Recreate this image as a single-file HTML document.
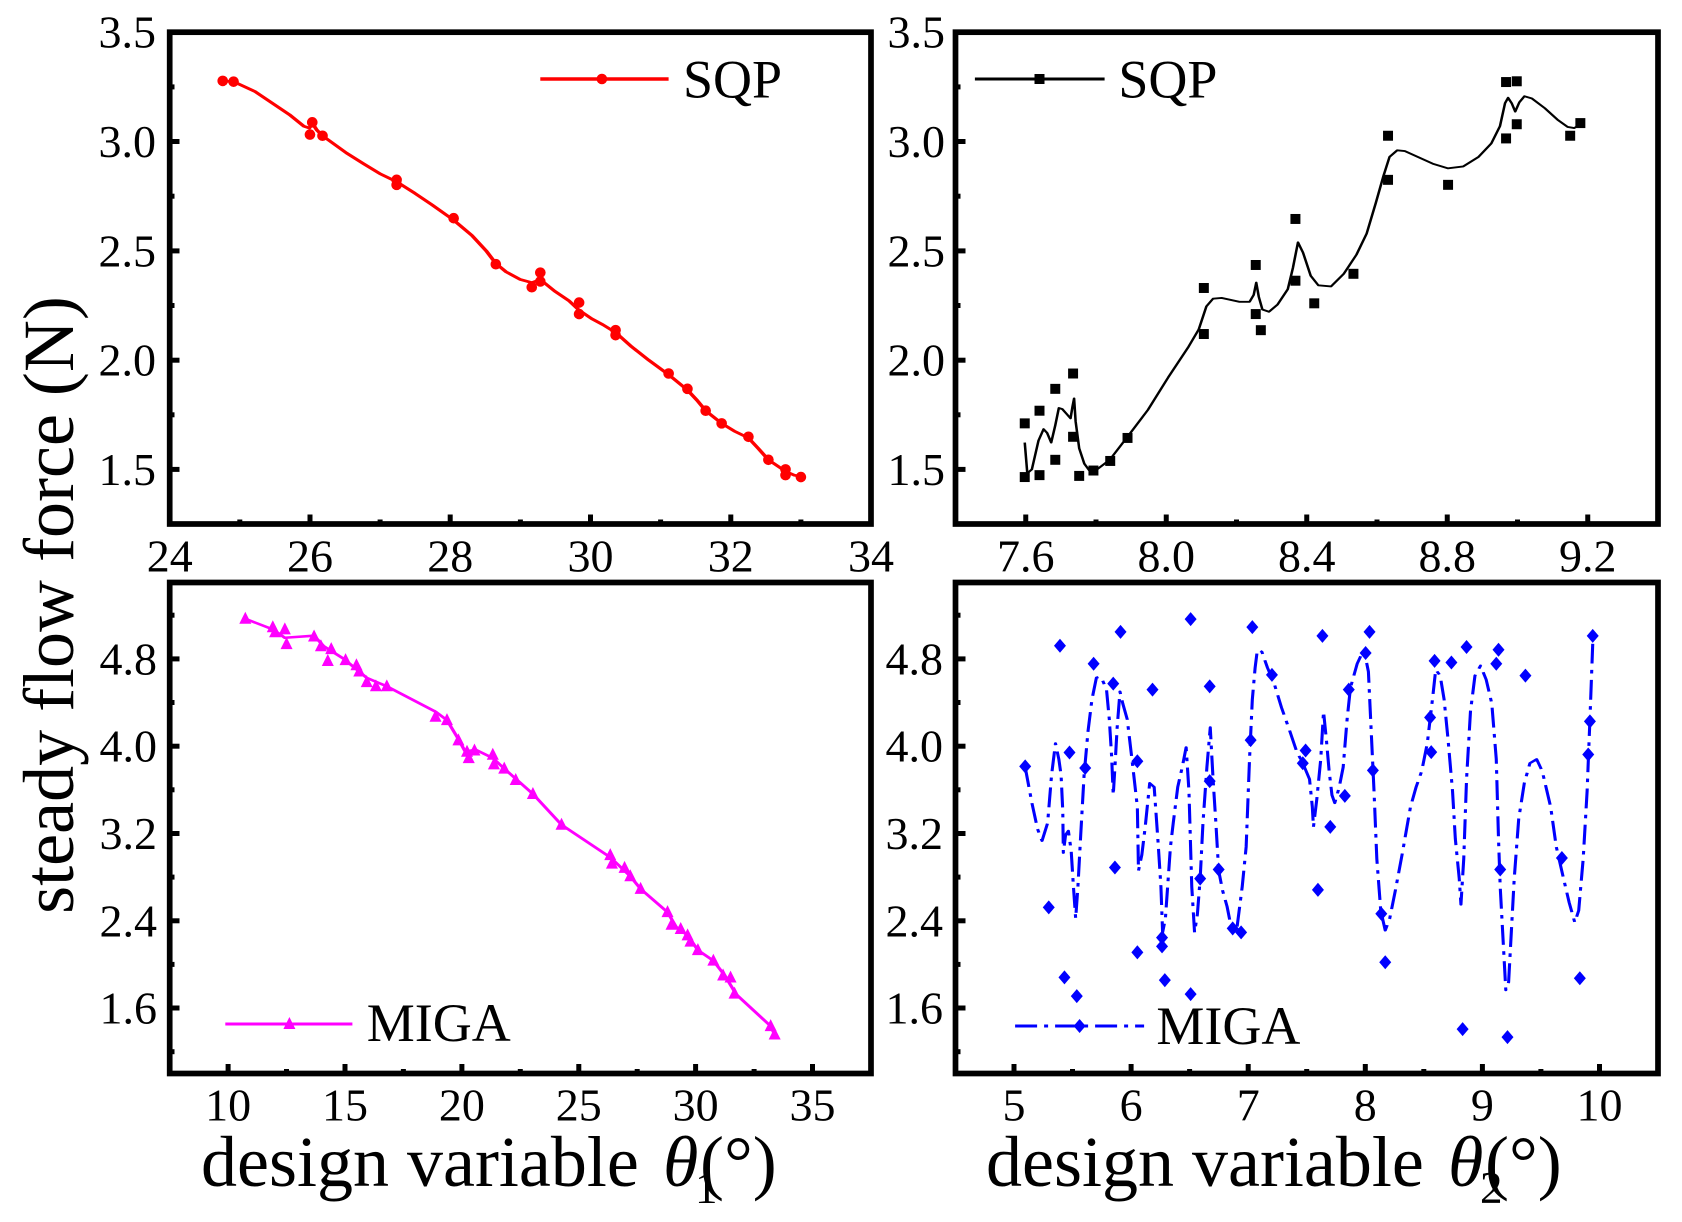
<!DOCTYPE html>
<html><head><meta charset="utf-8"><style>
html,body{margin:0;padding:0;background:#fff;}
svg{display:block;}
text{font-family:"Liberation Serif","DejaVu Serif",serif;fill:#000;}
</style></head><body>
<svg width="1682" height="1222" viewBox="0 0 1682 1222" xmlns="http://www.w3.org/2000/svg">
<defs>
<ellipse id="mc" cx="0" cy="0" rx="9.3" ry="13.8" fill="#ff0000"/>
<rect id="ms" x="-9.8" y="-13" width="19.6" height="26" fill="#000"/>
<polygon id="mt" points="0,-16.6 10.5,11.8 -10.5,11.8" fill="#ff00ff"/>
<polygon id="md" points="0,-17.6 10.7,0 0,17.6 -10.7,0" fill="#0000ff"/>
</defs>

<!-- ===== TOP LEFT ===== -->
<g transform="translate(4.34,-0.4) scale(0.5702,0.3835)">
<polyline fill="none" stroke="#ff0000" stroke-width="7" stroke-linejoin="round" points="383,212 402,214 440,240 470,270 500,300 525,330 535,335 540,322 548,340 558,355 600,400 630,428 660,455 688,475 720,505 750,535 788,575 820,615 845,655 862,688 880,710 905,730 925,738 940,730 965,760 990,785 1008,810 1030,832 1050,848 1072,868 1100,905 1130,940 1165,978 1198,1018 1215,1045 1230,1072 1258,1105 1280,1125 1305,1143 1322,1170 1340,1200 1355,1215 1370,1230 1385,1240 1397,1243"/>
<use href="#mc" x="383" y="212"/><use href="#mc" x="402" y="214"/><use href="#mc" x="540" y="320"/><use href="#mc" x="536" y="352"/><use href="#mc" x="558" y="355"/><use href="#mc" x="688" y="470"/><use href="#mc" x="688" y="483"/><use href="#mc" x="788" y="570"/><use href="#mc" x="862" y="690"/><use href="#mc" x="925" y="750"/><use href="#mc" x="940" y="712"/><use href="#mc" x="940" y="735"/><use href="#mc" x="1008" y="790"/><use href="#mc" x="1008" y="820"/><use href="#mc" x="1072" y="862"/><use href="#mc" x="1072" y="875"/><use href="#mc" x="1165" y="975"/><use href="#mc" x="1198" y="1015"/><use href="#mc" x="1230" y="1072"/><use href="#mc" x="1258" y="1105"/><use href="#mc" x="1305" y="1140"/><use href="#mc" x="1340" y="1200"/><use href="#mc" x="1370" y="1225"/><use href="#mc" x="1370" y="1240"/><use href="#mc" x="1397" y="1245"/>
</g>
<line x1="540.3" y1="79" x2="668.6" y2="79" stroke="#ff0000" stroke-width="3.5"/>
<circle cx="601.9" cy="79" r="5.3" fill="#ff0000"/>
<text x="683" y="97.4" font-size="54">SQP</text>
<rect x="169.7" y="32.2" width="701.3" height="491.8" fill="none" stroke="#000" stroke-width="5.7"/>
<g stroke="#000" stroke-width="5">
<line x1="169.7" y1="141.5" x2="179.5" y2="141.5"/><line x1="169.7" y1="250.9" x2="179.5" y2="250.9"/><line x1="169.7" y1="360.2" x2="179.5" y2="360.2"/><line x1="169.7" y1="469.4" x2="179.5" y2="469.4"/>
<line x1="310" y1="524" x2="310" y2="514.5"/><line x1="450.2" y1="524" x2="450.2" y2="514.5"/><line x1="590.5" y1="524" x2="590.5" y2="514.5"/><line x1="730.8" y1="524" x2="730.8" y2="514.5"/>
<line x1="169.7" y1="86.9" x2="174.5" y2="86.9"/><line x1="169.7" y1="196.2" x2="174.5" y2="196.2"/><line x1="169.7" y1="305.5" x2="174.5" y2="305.5"/><line x1="169.7" y1="414.8" x2="174.5" y2="414.8"/>
<line x1="239.8" y1="524" x2="239.8" y2="519.5"/><line x1="380.1" y1="524" x2="380.1" y2="519.5"/><line x1="520.4" y1="524" x2="520.4" y2="519.5"/><line x1="660.6" y1="524" x2="660.6" y2="519.5"/><line x1="800.9" y1="524" x2="800.9" y2="519.5"/>
</g>
<g font-size="46" text-anchor="end">
<text x="156" y="47.7">3.5</text><text x="156" y="157">3.0</text><text x="156" y="266.4">2.5</text><text x="156" y="375.7">2.0</text><text x="156" y="485">1.5</text>
</g>
<g font-size="46" text-anchor="middle">
<text x="169.7" y="571.5">24</text><text x="310" y="571.5">26</text><text x="450.2" y="571.5">28</text><text x="590.5" y="571.5">30</text><text x="730.8" y="571.5">32</text><text x="871" y="571.5">34</text>
</g>

<!-- ===== TOP RIGHT ===== -->
<g transform="translate(883.3,-0.4) scale(0.5088,0.3835)">
<polyline fill="none" stroke="#000" stroke-width="5" stroke-linejoin="round" points="278,1155 283,1235 292,1225 305,1150 315,1120 322,1130 330,1155 338,1110 345,1065 352,1068 360,1080 368,1092 372,1060 375,1040 378,1100 385,1170 395,1210 405,1228 420,1225 445,1200 480,1140 520,1070 560,985 600,905 620,860 635,800 648,780 665,778 700,788 720,788 728,770 733,738 738,775 745,808 758,814 775,795 795,755 805,700 815,633 825,660 840,720 855,745 880,748 905,715 930,665 950,610 968,530 983,460 995,410 1010,393 1025,395 1050,410 1080,428 1110,440 1140,435 1170,410 1195,375 1212,330 1222,270 1228,256 1235,270 1242,292 1250,268 1260,252 1275,258 1300,283 1325,313 1345,332 1358,335 1370,325"/>
<use href="#ms" x="278" y="1105"/><use href="#ms" x="278" y="1245"/><use href="#ms" x="307" y="1072"/><use href="#ms" x="307" y="1240"/><use href="#ms" x="338" y="1015"/><use href="#ms" x="338" y="1200"/><use href="#ms" x="373" y="975"/><use href="#ms" x="373" y="1140"/><use href="#ms" x="385" y="1242"/><use href="#ms" x="413" y="1228"/><use href="#ms" x="446" y="1203"/><use href="#ms" x="480" y="1143"/><use href="#ms" x="630" y="752"/><use href="#ms" x="630" y="872"/><use href="#ms" x="732" y="692"/><use href="#ms" x="732" y="820"/><use href="#ms" x="742" y="862"/><use href="#ms" x="810" y="572"/><use href="#ms" x="810" y="733"/><use href="#ms" x="847" y="792"/><use href="#ms" x="924" y="715"/><use href="#ms" x="992" y="355"/><use href="#ms" x="992" y="470"/><use href="#ms" x="1110" y="483"/><use href="#ms" x="1224" y="215"/><use href="#ms" x="1224" y="362"/><use href="#ms" x="1245" y="213"/><use href="#ms" x="1245" y="325"/><use href="#ms" x="1350" y="355"/><use href="#ms" x="1370" y="322"/>
</g>
<line x1="974.9" y1="79" x2="1104.6" y2="79" stroke="#000" stroke-width="3"/>
<rect x="1034.5" y="74" width="10" height="10" fill="#000"/>
<text x="1118.4" y="97.4" font-size="54">SQP</text>
<rect x="955.5" y="32.2" width="702.5" height="491.8" fill="none" stroke="#000" stroke-width="5.7"/>
<g stroke="#000" stroke-width="5">
<line x1="955.5" y1="141.5" x2="965.5" y2="141.5"/><line x1="955.5" y1="250.9" x2="965.5" y2="250.9"/><line x1="955.5" y1="360.2" x2="965.5" y2="360.2"/><line x1="955.5" y1="469.4" x2="965.5" y2="469.4"/>
<line x1="955.5" y1="86.9" x2="960.5" y2="86.9"/><line x1="955.5" y1="196.2" x2="960.5" y2="196.2"/><line x1="955.5" y1="305.5" x2="960.5" y2="305.5"/><line x1="955.5" y1="414.8" x2="960.5" y2="414.8"/>
<line x1="1025.75" y1="524" x2="1025.75" y2="514.5"/><line x1="1166.25" y1="524" x2="1166.25" y2="514.5"/><line x1="1306.75" y1="524" x2="1306.75" y2="514.5"/><line x1="1447.25" y1="524" x2="1447.25" y2="514.5"/><line x1="1587.75" y1="524" x2="1587.75" y2="514.5"/>
<line x1="1096" y1="524" x2="1096" y2="519.5"/><line x1="1236.5" y1="524" x2="1236.5" y2="519.5"/><line x1="1377" y1="524" x2="1377" y2="519.5"/><line x1="1517.5" y1="524" x2="1517.5" y2="519.5"/>
</g>
<g font-size="46" text-anchor="end">
<text x="945" y="47.7">3.5</text><text x="945" y="157">3.0</text><text x="945" y="266.4">2.5</text><text x="945" y="375.7">2.0</text><text x="945" y="485">1.5</text>
</g>
<g font-size="46" text-anchor="middle">
<text x="1025.75" y="571.5">7.6</text><text x="1166.25" y="571.5">8.0</text><text x="1306.75" y="571.5">8.4</text><text x="1447.25" y="571.5">8.8</text><text x="1587.75" y="571.5">9.2</text>
</g>

<!-- ===== BOTTOM LEFT ===== -->
<g transform="translate(0.1,559.7) scale(0.5729,0.4221)">
<polyline fill="none" stroke="#ff00ff" stroke-width="6" stroke-linejoin="round" points="428,140 476,165 497,185 548,180 565,205 600,235 640,280 675,300 760,360 780,380 800,425 812,455 830,450 860,470 880,495 930,555 980,628 1065,705 1100,750 1118,780 1165,835 1180,870 1200,890 1218,925 1245,950 1265,985 1285,1030 1345,1105 1352,1125"/>
<use href="#mt" x="428" y="140"/><use href="#mt" x="476" y="160"/><use href="#mt" x="480" y="172"/><use href="#mt" x="497" y="165"/><use href="#mt" x="500" y="200"/><use href="#mt" x="548" y="182"/><use href="#mt" x="560" y="205"/><use href="#mt" x="572" y="240"/><use href="#mt" x="578" y="212"/><use href="#mt" x="603" y="238"/><use href="#mt" x="622" y="250"/><use href="#mt" x="627" y="265"/><use href="#mt" x="640" y="290"/><use href="#mt" x="656" y="300"/><use href="#mt" x="675" y="300"/><use href="#mt" x="760" y="372"/><use href="#mt" x="780" y="380"/><use href="#mt" x="800" y="428"/><use href="#mt" x="815" y="455"/><use href="#mt" x="818" y="470"/><use href="#mt" x="828" y="452"/><use href="#mt" x="860" y="462"/><use href="#mt" x="862" y="485"/><use href="#mt" x="880" y="495"/><use href="#mt" x="900" y="522"/><use href="#mt" x="930" y="555"/><use href="#mt" x="980" y="628"/><use href="#mt" x="1065" y="700"/><use href="#mt" x="1068" y="720"/><use href="#mt" x="1090" y="730"/><use href="#mt" x="1100" y="750"/><use href="#mt" x="1118" y="780"/><use href="#mt" x="1165" y="835"/><use href="#mt" x="1172" y="865"/><use href="#mt" x="1188" y="875"/><use href="#mt" x="1200" y="890"/><use href="#mt" x="1205" y="905"/><use href="#mt" x="1218" y="925"/><use href="#mt" x="1245" y="950"/><use href="#mt" x="1262" y="985"/><use href="#mt" x="1275" y="990"/><use href="#mt" x="1282" y="1028"/><use href="#mt" x="1345" y="1105"/><use href="#mt" x="1352" y="1125"/>
</g>
<line x1="225.3" y1="1024" x2="352.4" y2="1024" stroke="#ff00ff" stroke-width="3"/>
<polygon points="289.4,1017 295.4,1029 283.4,1029" fill="#ff00ff"/>
<text x="366.8" y="1040.9" font-size="54">MIGA</text>
<rect x="169.7" y="582.5" width="701.3" height="491" fill="none" stroke="#000" stroke-width="5.7"/>
<g stroke="#000" stroke-width="5">
<line x1="169.7" y1="658.9" x2="179.5" y2="658.9"/><line x1="169.7" y1="746.2" x2="179.5" y2="746.2"/><line x1="169.7" y1="833.5" x2="179.5" y2="833.5"/><line x1="169.7" y1="920.8" x2="179.5" y2="920.8"/><line x1="169.7" y1="1008" x2="179.5" y2="1008"/>
<line x1="169.7" y1="615.2" x2="174.5" y2="615.2"/><line x1="169.7" y1="702.5" x2="174.5" y2="702.5"/><line x1="169.7" y1="789.8" x2="174.5" y2="789.8"/><line x1="169.7" y1="877.1" x2="174.5" y2="877.1"/><line x1="169.7" y1="964.4" x2="174.5" y2="964.4"/><line x1="169.7" y1="1051.7" x2="174.5" y2="1051.7"/>
<line x1="228.1" y1="1073.5" x2="228.1" y2="1064"/><line x1="345" y1="1073.5" x2="345" y2="1064"/><line x1="461.9" y1="1073.5" x2="461.9" y2="1064"/><line x1="578.8" y1="1073.5" x2="578.8" y2="1064"/><line x1="695.6" y1="1073.5" x2="695.6" y2="1064"/><line x1="812.5" y1="1073.5" x2="812.5" y2="1064"/>
<line x1="286.5" y1="1073.5" x2="286.5" y2="1069"/><line x1="403.4" y1="1073.5" x2="403.4" y2="1069"/><line x1="520.3" y1="1073.5" x2="520.3" y2="1069"/><line x1="637.2" y1="1073.5" x2="637.2" y2="1069"/><line x1="754.1" y1="1073.5" x2="754.1" y2="1069"/>
</g>
<g font-size="46" text-anchor="end">
<text x="157" y="674.4">4.8</text><text x="157" y="761.7">4.0</text><text x="157" y="849">3.2</text><text x="157" y="936.3">2.4</text><text x="157" y="1023.5">1.6</text>
</g>
<g font-size="46" text-anchor="middle">
<text x="228.1" y="1120.5">10</text><text x="345" y="1120.5">15</text><text x="461.9" y="1120.5">20</text><text x="578.8" y="1120.5">25</text><text x="695.6" y="1120.5">30</text><text x="812.5" y="1120.5">35</text>
</g>

<!-- ===== BOTTOM RIGHT ===== -->
<g transform="translate(802,600) scale(0.5608,0.3981)">
<polyline fill="none" stroke="#0000ff" stroke-width="5.5" stroke-dasharray="50 16 9 16" stroke-linejoin="round" points="398,420 410,510 420,575 428,605 438,560 445,440 452,360 458,400 462,440 465,530 466,635 470,590 475,580 480,630 484,720 488,800 492,720 497,590 503,440 510,330 517,250 525,195 533,192 543,225 548,300 552,390 555,490 558,420 562,320 567,230 572,260 580,300 590,420 598,520 600,680 606,640 612,570 620,460 628,470 635,610 640,720 643,835 648,800 652,720 657,620 662,560 670,470 678,420 685,370 690,480 695,720 700,835 705,790 710,700 715,560 722,420 728,320 733,450 738,560 743,680 750,730 758,770 765,820 775,830 785,720 792,620 798,400 803,250 808,170 812,125 820,130 830,170 842,210 855,270 870,330 882,380 893,410 905,450 910,520 912,570 918,500 925,400 930,280 935,350 940,430 945,490 950,510 958,470 965,420 972,300 978,220 990,160 1000,130 1005,145 1010,180 1015,330 1020,480 1025,650 1032,780 1040,830 1048,800 1058,730 1070,640 1085,520 1095,470 1105,430 1115,360 1125,240 1130,175 1138,190 1145,250 1152,350 1160,480 1165,600 1172,700 1175,765 1180,650 1185,450 1192,280 1200,190 1210,165 1220,200 1230,260 1238,400 1242,600 1245,720 1250,850 1255,980 1260,960 1265,830 1270,700 1278,550 1288,460 1298,410 1310,400 1320,430 1335,520 1345,620 1358,700 1368,760 1378,810 1385,780 1393,650 1400,480 1405,300 1410,110"/>
<use href="#md" x="398" y="418"/><use href="#md" x="440" y="772"/><use href="#md" x="460" y="115"/><use href="#md" x="468" y="948"/><use href="#md" x="477" y="383"/><use href="#md" x="490" y="995"/><use href="#md" x="505" y="422"/><use href="#md" x="520" y="160"/><use href="#md" x="555" y="210"/><use href="#md" x="558" y="672"/><use href="#md" x="568" y="80"/><use href="#md" x="598" y="405"/><use href="#md" x="598" y="885"/><use href="#md" x="625" y="225"/><use href="#md" x="642" y="848"/><use href="#md" x="642" y="870"/><use href="#md" x="647" y="955"/><use href="#md" x="693" y="48"/><use href="#md" x="693" y="990"/><use href="#md" x="710" y="700"/><use href="#md" x="727" y="217"/><use href="#md" x="727" y="455"/><use href="#md" x="743" y="677"/><use href="#md" x="768" y="825"/><use href="#md" x="783" y="835"/><use href="#md" x="800" y="352"/><use href="#md" x="803" y="68"/><use href="#md" x="838" y="188"/><use href="#md" x="893" y="410"/><use href="#md" x="898" y="378"/><use href="#md" x="920" y="728"/><use href="#md" x="928" y="90"/><use href="#md" x="942" y="570"/><use href="#md" x="968" y="492"/><use href="#md" x="975" y="225"/><use href="#md" x="1005" y="133"/><use href="#md" x="1012" y="80"/><use href="#md" x="1018" y="428"/><use href="#md" x="1033" y="788"/><use href="#md" x="1040" y="910"/><use href="#md" x="1120" y="295"/><use href="#md" x="1122" y="382"/><use href="#md" x="1128" y="153"/><use href="#md" x="1158" y="157"/><use href="#md" x="1178" y="1078"/><use href="#md" x="1185" y="118"/><use href="#md" x="1238" y="160"/><use href="#md" x="1242" y="125"/><use href="#md" x="1245" y="677"/><use href="#md" x="1258" y="1098"/><use href="#md" x="1290" y="190"/><use href="#md" x="1355" y="648"/><use href="#md" x="1387" y="950"/><use href="#md" x="1402" y="388"/><use href="#md" x="1405" y="305"/><use href="#md" x="1410" y="90"/>
</g>
<line x1="1015.1" y1="1026" x2="1144.1" y2="1026" stroke="#0000ff" stroke-width="3" stroke-dasharray="22 7 4 7"/>
<polygon points="1079.6,1019 1085.6,1026 1079.6,1033 1073.6,1026" fill="#0000ff"/>
<text x="1156.4" y="1043.9" font-size="54">MIGA</text>
<rect x="955.5" y="582.5" width="702.5" height="491" fill="none" stroke="#000" stroke-width="5.7"/>
<g stroke="#000" stroke-width="5">
<line x1="955.5" y1="658.9" x2="965.5" y2="658.9"/><line x1="955.5" y1="746.2" x2="965.5" y2="746.2"/><line x1="955.5" y1="833.5" x2="965.5" y2="833.5"/><line x1="955.5" y1="920.8" x2="965.5" y2="920.8"/><line x1="955.5" y1="1008" x2="965.5" y2="1008"/>
<line x1="955.5" y1="615.2" x2="960.5" y2="615.2"/><line x1="955.5" y1="702.5" x2="960.5" y2="702.5"/><line x1="955.5" y1="789.8" x2="960.5" y2="789.8"/><line x1="955.5" y1="877.1" x2="960.5" y2="877.1"/><line x1="955.5" y1="964.4" x2="960.5" y2="964.4"/><line x1="955.5" y1="1051.7" x2="960.5" y2="1051.7"/>
<line x1="1014" y1="1073.5" x2="1014" y2="1064"/><line x1="1131.1" y1="1073.5" x2="1131.1" y2="1064"/><line x1="1248.2" y1="1073.5" x2="1248.2" y2="1064"/><line x1="1365.3" y1="1073.5" x2="1365.3" y2="1064"/><line x1="1482.4" y1="1073.5" x2="1482.4" y2="1064"/><line x1="1599.5" y1="1073.5" x2="1599.5" y2="1064"/>
<line x1="1072.5" y1="1073.5" x2="1072.5" y2="1069"/><line x1="1189.6" y1="1073.5" x2="1189.6" y2="1069"/><line x1="1306.7" y1="1073.5" x2="1306.7" y2="1069"/><line x1="1423.8" y1="1073.5" x2="1423.8" y2="1069"/><line x1="1540.9" y1="1073.5" x2="1540.9" y2="1069"/>
</g>
<g font-size="46" text-anchor="end">
<text x="943" y="674.4">4.8</text><text x="943" y="761.7">4.0</text><text x="943" y="849">3.2</text><text x="943" y="936.3">2.4</text><text x="943" y="1023.5">1.6</text>
</g>
<g font-size="46" text-anchor="middle">
<text x="1014" y="1120.5">5</text><text x="1131.1" y="1120.5">6</text><text x="1248.2" y="1120.5">7</text><text x="1365.3" y="1120.5">8</text><text x="1482.4" y="1120.5">9</text><text x="1599.5" y="1120.5">10</text>
</g>

<!-- ===== AXIS TITLES ===== -->
<text transform="translate(73,605) rotate(-90)" text-anchor="middle" font-size="72">steady flow force (N)</text>

<text x="201" y="1186" font-size="72">design variable</text>
<text x="663" y="1186" font-size="72" font-style="italic">θ</text>
<text x="695" y="1203" font-size="45">1</text>
<text x="700" y="1186" font-size="72">(°)</text>

<text x="986" y="1186" font-size="72">design variable</text>
<text x="1448" y="1186" font-size="72" font-style="italic">θ</text>
<text x="1480" y="1203" font-size="45">2</text>
<text x="1485" y="1186" font-size="72">(°)</text>
</svg>
</body></html>
